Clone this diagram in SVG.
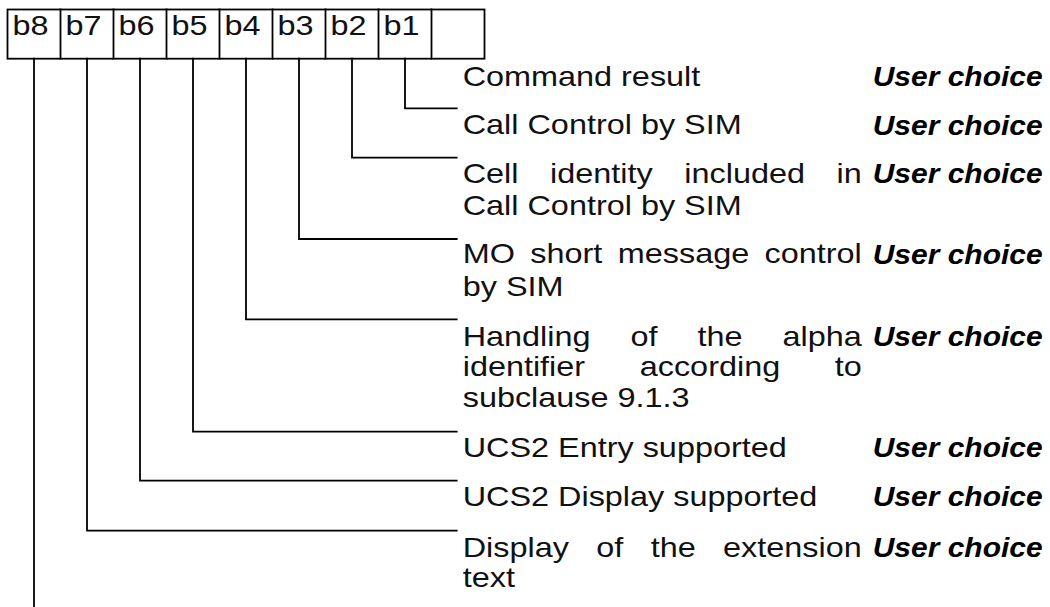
<svg xmlns="http://www.w3.org/2000/svg" width="1050" height="607" viewBox="0 0 1050 607">
<style>
.ln{fill:none;stroke:#000;stroke-width:1.8;stroke-linecap:square}
.t{font-family:"Liberation Sans",Arial,sans-serif;font-size:27px;fill:#111}
.uc{font-family:"Liberation Sans",Arial,sans-serif;font-size:27px;font-weight:bold;font-style:italic;fill:#000}
.e{text-anchor:end}
</style>
<rect width="1050" height="607" fill="#fff"/>
<g id="register">
<rect class="ln" x="7.5" y="9.5" width="477" height="49.2"/>
<path class="ln" d="M60.5 9.5V58.7M113.5 9.5V58.7M166.5 9.5V58.7M219.5 9.5V58.7M272.5 9.5V58.7M325.5 9.5V58.7M378.5 9.5V58.7M431.5 9.5V58.7"/>
<g transform="scale(1.2,1)">
<text class="t" x="10.42" y="35.5">b8</text>
<text class="t" x="54.58" y="35.5">b7</text>
<text class="t" x="98.75" y="35.5">b6</text>
<text class="t" x="142.92" y="35.5">b5</text>
<text class="t" x="187.08" y="35.5">b4</text>
<text class="t" x="231.25" y="35.5">b3</text>
<text class="t" x="275.42" y="35.5">b2</text>
<text class="t" x="319.58" y="35.5">b1</text>
</g>
</g>
<g id="connectors">
<path class="ln" d="M405 58.7V108.3H456.7"/>
<path class="ln" d="M352 58.7V157.7H456.7"/>
<path class="ln" d="M299 58.7V239H456.7"/>
<path class="ln" d="M246 58.7V319.3H456.7"/>
<path class="ln" d="M193 58.7V431.7H456.7"/>
<path class="ln" d="M140 58.7V480.7H456.7"/>
<path class="ln" d="M87 58.7V530.7H456.7"/>
<path class="ln" d="M34 58.7V608"/>
</g>
<g id="row-b1">
<text class="t" transform="scale(1.2,1)" x="385.58" y="86">Command result</text>
<text class="uc" x="872.7" y="86" textLength="170" lengthAdjust="spacingAndGlyphs">User choice</text>
</g>
<g id="row-b2">
<text class="t" transform="scale(1.2,1)" x="385.58" y="134.5">Call Control by SIM</text>
<text class="uc" x="872.7" y="134.5" textLength="170" lengthAdjust="spacingAndGlyphs">User choice</text>
</g>
<g id="row-b3">
<g transform="scale(1.2,1)">
<text class="t" x="385.58" y="183">Cell</text>
<text class="t" x="458.4" y="183">identity</text>
<text class="t" x="570.3" y="183">included</text>
<text class="t e" x="718.08" y="183">in</text>
<text class="t" x="385.58" y="215">Call Control by SIM</text>
</g>
<text class="uc" x="872.7" y="183" textLength="170" lengthAdjust="spacingAndGlyphs">User choice</text>
</g>
<g id="row-b4">
<g transform="scale(1.2,1)">
<text class="t" x="385.58" y="263.5">MO</text>
<text class="t" x="441.9" y="263.5">short</text>
<text class="t" x="514.8" y="263.5">message</text>
<text class="t e" x="718.08" y="263.5">control</text>
<text class="t" x="385.58" y="296.5">by SIM</text>
</g>
<text class="uc" x="872.7" y="263.5" textLength="170" lengthAdjust="spacingAndGlyphs">User choice</text>
</g>
<g id="row-b5">
<g transform="scale(1.2,1)">
<text class="t" x="385.58" y="345.7">Handling</text>
<text class="t" x="525.4" y="345.7">of</text>
<text class="t" x="581.2" y="345.7">the</text>
<text class="t e" x="718.08" y="345.7">alpha</text>
<text class="t" x="385.58" y="376">identifier</text>
<text class="t" x="533.1" y="376">according</text>
<text class="t e" x="718.08" y="376">to</text>
<text class="t" x="385.58" y="407.5">subclause 9.1.3</text>
</g>
<text class="uc" x="872.7" y="345.7" textLength="170" lengthAdjust="spacingAndGlyphs">User choice</text>
</g>
<g id="row-b6">
<text class="t" transform="scale(1.2,1)" x="385.58" y="456.7">UCS2 Entry supported</text>
<text class="uc" x="872.7" y="456.7" textLength="170" lengthAdjust="spacingAndGlyphs">User choice</text>
</g>
<g id="row-b7">
<text class="t" transform="scale(1.2,1)" x="385.58" y="506">UCS2 Display supported</text>
<text class="uc" x="872.7" y="506" textLength="170" lengthAdjust="spacingAndGlyphs">User choice</text>
</g>
<g id="row-b8">
<g transform="scale(1.2,1)">
<text class="t" x="385.58" y="556.7">Display</text>
<text class="t" x="496.9" y="556.7">of</text>
<text class="t" x="542.3" y="556.7">the</text>
<text class="t e" x="718.08" y="556.7">extension</text>
<text class="t" x="385.58" y="587.3">text</text>
</g>
<text class="uc" x="872.7" y="556.7" textLength="170" lengthAdjust="spacingAndGlyphs">User choice</text>
</g>
</svg>
